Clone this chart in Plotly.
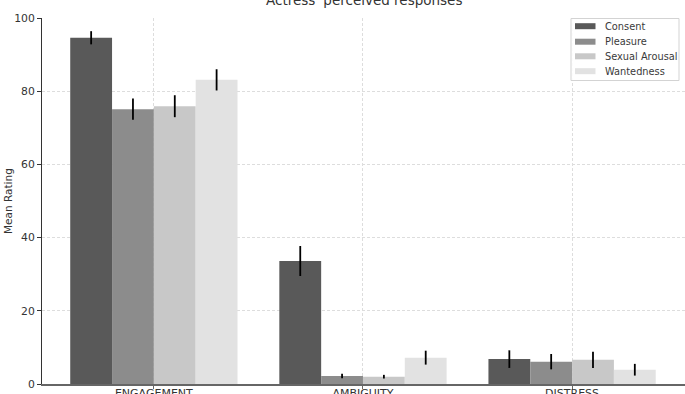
import plotly.graph_objects as go

categories = ["ENGAGEMENT", "AMBIGUITY", "DISTRESS"]
series_names = ["Consent", "Pleasure", "Sexual Arousal", "Wantedness"]
consent = [94.6, 33.6, 6.8]
consent_err = [1.8, 4.1, 2.4]
pleasure = [75.1, 2.2, 6.1]
pleasure_err = [2.9, 0.6, 2.1]
arousal = [75.9, 2.0, 6.6]
arousal_err = [3.0, 0.5, 2.2]
wantedness = [83.1, 7.2, 3.9]
wantedness_err = [2.9, 1.9, 1.6]
colors = ["#595959", "#8c8c8c", "#c8c8c8", "#e2e2e2"]
y_ticks = [0, 20, 40, 60, 80, 100]

values = [consent, pleasure, arousal, wantedness]
errors = [consent_err, pleasure_err, arousal_err, wantedness_err]

FONT = "DejaVu Sans"
W, H = 685, 394
ML, MR, MT, MB = 42, 0, 18, 10
PW, PH = W - ML - MR, H - MT - MB


def px(x):
    return (x - ML) / PW


def py(y):
    return (H - MB - y) / PH


fig = go.Figure()
for name, vals, errs, col in zip(series_names, values, errors, colors):
    fig.add_trace(go.Bar(
        x=categories, y=vals, name=name,
        marker=dict(color=col, line=dict(width=0)),
        error_y=dict(type="data", array=errs, visible=True, color="black",
                     thickness=1.8, width=0),
        hoverinfo="skip",
    ))

# custom legend (box, swatches, labels)
shapes = [dict(type="rect", xref="paper", yref="paper",
               x0=px(571), x1=px(679), y0=py(80.5), y1=py(18.5),
               fillcolor="rgba(255,255,255,0.9)", line=dict(color="#d3d3d3", width=1),
               layer="above")]
annotations = []
centers = [26.2, 41.7, 56.3, 71.2]
for name, col, cy in zip(series_names, colors, centers):
    shapes.append(dict(type="rect", xref="paper", yref="paper",
                       x0=px(575), x1=px(595.5), y0=py(cy + 3), y1=py(cy - 3),
                       fillcolor=col, line=dict(width=0), layer="above"))
    annotations.append(dict(text=name, xref="paper", yref="paper", x=px(602.5), y=py(cy),
                            xanchor="left", yanchor="middle", showarrow=False,
                            font=dict(family=FONT, size=9.8, color="#3a3a3a")))

annotations += [
    dict(text="Actress' perceived responses", xref="paper", yref="paper",
         x=0.5, y=1, yshift=8, xanchor="center", yanchor="bottom",
         showarrow=False, font=dict(family=FONT, size=13.5, color="#333333")),
    dict(text="Mean Rating", xref="paper", yref="paper", x=0, xshift=-34,
         y=0.5, xanchor="center", yanchor="middle", textangle=-90,
         showarrow=False, font=dict(family=FONT, size=10.5, color="#333333")),
]

fig.update_layout(
    width=W, height=H,
    margin=dict(l=ML, r=MR, t=MT, b=MB),
    paper_bgcolor="white", plot_bgcolor="white",
    barmode="group", bargap=0.2, bargroupgap=0,
    font=dict(family=FONT, size=10, color="#333333"),
    showlegend=False,
    xaxis=dict(
        type="category", range=[-0.535, 2.54], automargin=False,
        showgrid=True, gridcolor="#dddddd", griddash="3px,2px", gridwidth=1,
        showline=True, linecolor="#666666", linewidth=1.5,
        ticks="outside", ticklen=3, tickcolor="#666666",
        ticklabelstandoff=-5,
        tickfont=dict(family=FONT, size=11, color="#333333"),
    ),
    yaxis=dict(
        range=[0, 100], tickvals=y_ticks, automargin=False,
        showgrid=True, gridcolor="#dddddd", griddash="3px,2px", gridwidth=1,
        showline=True, linecolor="#333333", linewidth=1,
        ticks="outside", ticklen=4, tickcolor="#333333",
        tickfont=dict(family=FONT, size=10.8, color="#333333"),
        zeroline=False,
    ),
    shapes=shapes,
    annotations=annotations,
)

fig.write_html("out.html", config={"displayModeBar": False},
               post_script="document.body.style.margin='0';document.body.style.overflow='hidden';")
